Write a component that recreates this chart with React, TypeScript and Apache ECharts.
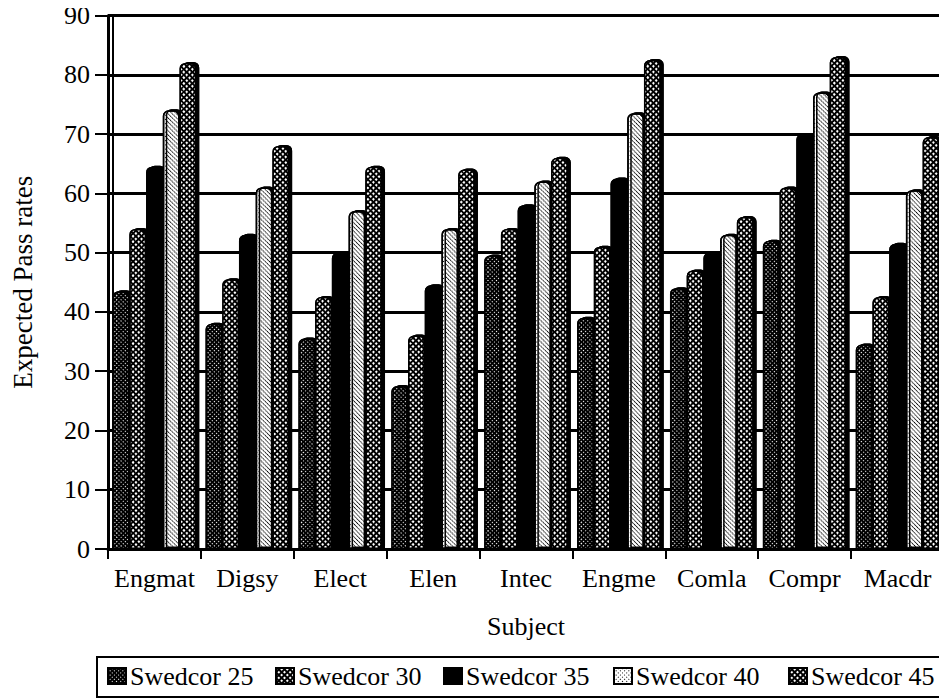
import React, { useEffect, useRef } from "react";
import * as echarts from "echarts";

// Subjects along the category axis
const categories = ["Engmat", "Digsy", "Elect", "Elen", "Intec", "Engme", "Comla", "Compr", "Macdr"];

// Expected pass rates per Swedcor level
const swedcor25 = [43.5, 38, 35.5, 27.5, 49.5, 39, 44, 52, 34.5];
const swedcor30 = [54, 45.5, 42.5, 36, 54, 51, 47, 61, 42.5];
const swedcor35 = [64.5, 53, 50, 44.5, 58, 62.5, 50, 70, 51.5];
const swedcor40 = [74, 61, 57, 54, 62, 73.5, 53, 77, 60.5];
const swedcor45 = [82, 68, 64.5, 64, 66, 82.5, 56, 83, 69.5];

const seriesNames = ["Swedcor 25", "Swedcor 30", "Swedcor 35", "Swedcor 40", "Swedcor 45"];
const seriesValues = [swedcor25, swedcor30, swedcor35, swedcor40, swedcor45];

// Value axis range
const yMin = 0;
const yMax = 90;
const yStep = 10;

const FONT = "'Liberation Serif', 'Times New Roman', serif";

// Halftone-like fills for each series
const fills = [
  { color: "#000000", decal: { symbol: "rect", symbolSize: 1, color: "#ffffff", dashArrayX: [1, 2], dashArrayY: [1, 2], rotation: 0.785 } },
  { color: "#000000", decal: { symbol: "rect", symbolSize: 1, color: "#ffffff", dashArrayX: [1.6, 1.6], dashArrayY: [1.6, 1.6], rotation: 0.785 } },
  { color: "#000000", decal: { symbol: "none" } },
  { color: "#ffffff", decal: { symbol: "rect", symbolSize: 1, color: "#000000", dashArrayX: [1, 1.8], dashArrayY: [1, 1.8], rotation: 0.785 } },
  { color: "#000000", decal: { symbol: "rect", symbolSize: 1, color: "#ffffff", dashArrayX: [1.2, 1.8], dashArrayY: [1.2, 1.8], rotation: 0.785 } },
];

// Left edge of each legend entry
const legendLeft = [107, 275, 443, 613, 788];

export default function App() {
  const ref = useRef<HTMLDivElement>(null);

  useEffect(() => {
    if (!ref.current) return;
    const chart = echarts.init(ref.current, undefined, { renderer: "svg" });

    const option: any = {
      animation: false,
      backgroundColor: "#ffffff",
      aria: { enabled: true, decal: { show: true } },
      grid: { left: 108, right: 3, top: 15.5, bottom: 151, containLabel: false },
      legend: seriesNames.map((name, i) => ({
        data: [name],
        left: legendLeft[i],
        top: 663,
        padding: 0,
        itemWidth: 18,
        itemHeight: 16,
        itemGap: 0,
        icon: "rect",
        selectedMode: false,
        textStyle: { fontFamily: FONT, fontSize: 26, color: "#000", padding: [0, 0, 0, -1] },
      })),
      xAxis: {
        type: "category",
        data: categories,
        name: "Subject",
        nameLocation: "middle",
        nameGap: 64,
        nameTextStyle: { fontFamily: FONT, fontSize: 26, color: "#000" },
        axisLine: { show: true, lineStyle: { color: "#000", width: 3 } },
        axisTick: { show: true, length: 10, lineStyle: { color: "#000", width: 2 } },
        axisLabel: { fontFamily: FONT, fontSize: 26, color: "#000", margin: 16, interval: 0 },
        splitLine: { show: false },
      },
      yAxis: {
        type: "value",
        min: yMin,
        max: yMax,
        interval: yStep,
        name: "Expected Pass rates",
        nameLocation: "middle",
        nameGap: 72,
        nameTextStyle: { fontFamily: FONT, fontSize: 27, color: "#000" },
        axisLine: { show: true, lineStyle: { color: "#000", width: 3 } },
        axisTick: { show: true, length: 13, lineStyle: { color: "#000", width: 2 } },
        axisLabel: { fontFamily: FONT, fontSize: 26, color: "#000", margin: 18 },
        splitLine: { show: true, lineStyle: { color: "#000", width: 3 } },
      },
      graphic: [
        // back wall edge beside the value axis
        { type: "line", shape: { x1: 113, y1: 15.5, x2: 113, y2: 549 }, style: { stroke: "#000", lineWidth: 2 }, z: 5 },
        // legend frame
        { type: "rect", shape: { x: 97, y: 657, width: 845, height: 40 }, style: { fill: "none", stroke: "#000", lineWidth: 2 }, z: 1 },
      ],
      series: seriesNames.map((name, i) => ({
        name,
        type: "bar",
        data: seriesValues[i],
        barGap: "0%",
        barCategoryGap: "10%",
        z: 10,
        itemStyle: {
          color: fills[i].color,
          decal: fills[i].decal,
          borderColor: "#000",
          borderWidth: 1.5,
          borderRadius: [5, 5, 0, 0],
          shadowColor: "#000",
          shadowOffsetX: 3,
          shadowOffsetY: -1,
          shadowBlur: 0,
        },
      })),
    };

    chart.setOption(option);
    return () => chart.dispose();
  }, []);

  return <div ref={ref} style={{ width: 947, height: 700, marginLeft: -8, marginTop: -8 }} />;
}
